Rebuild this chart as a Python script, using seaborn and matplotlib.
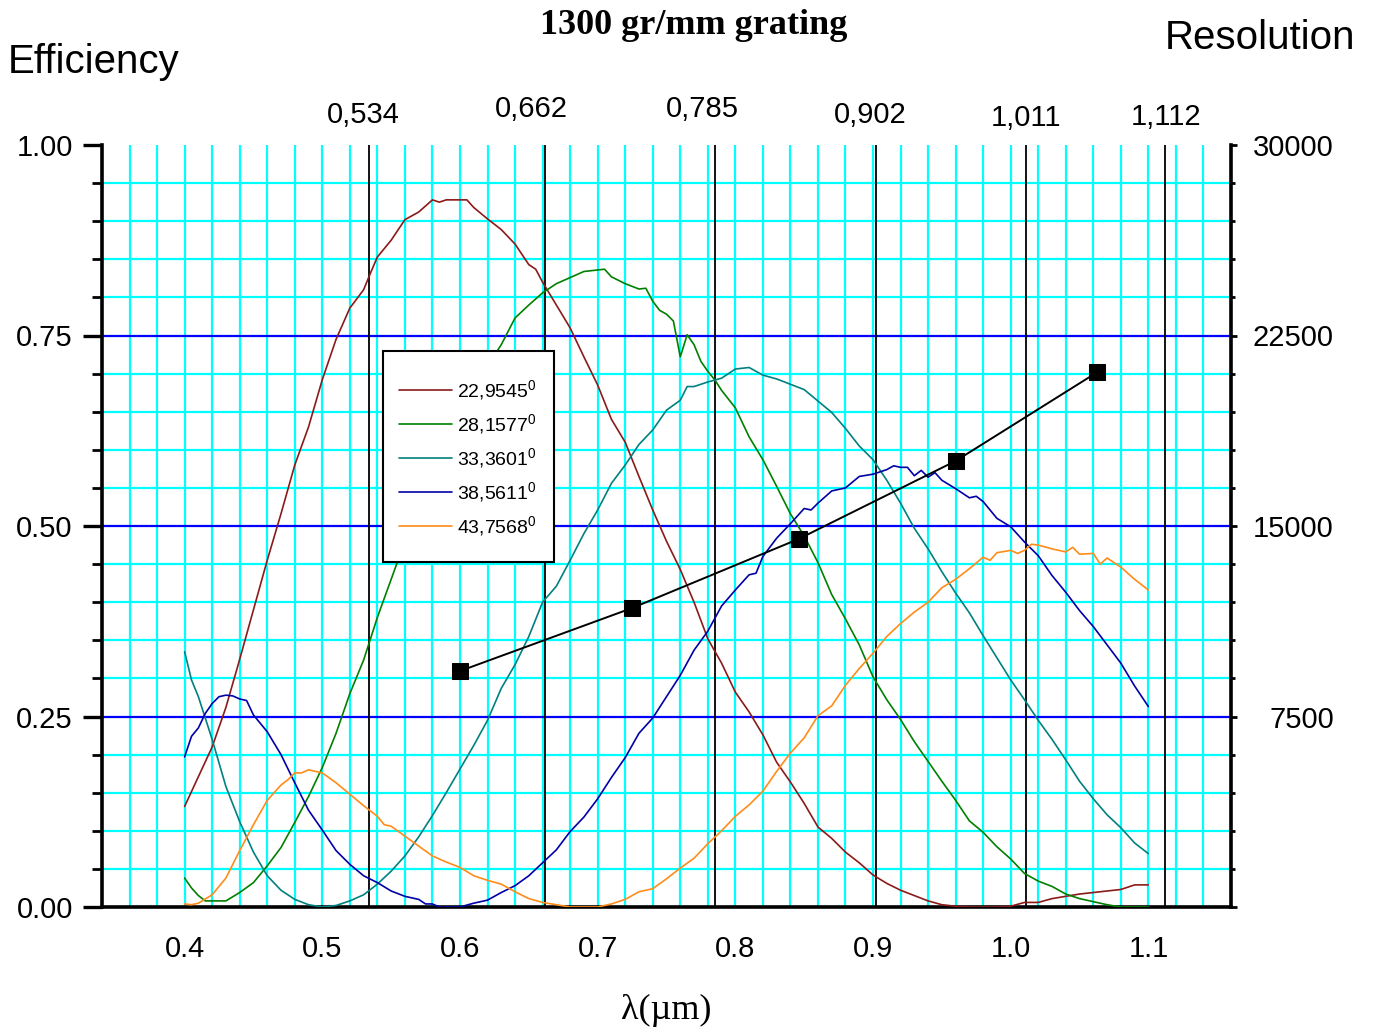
import numpy as np
import pandas as pd
import matplotlib
matplotlib.use("Agg")
import matplotlib.pyplot as plt
import matplotlib.transforms as mtransforms
from matplotlib.patches import Rectangle
from matplotlib.ticker import MultipleLocator, FormatStrFormatter, FixedLocator
import seaborn as sns

# ---------------- data ----------------
wl_red = [0.40, 0.41, 0.42, 0.43, 0.44, 0.45, 0.46, 0.47, 0.48, 0.49, 0.50, 0.51, 0.52, 0.53, 0.535,
          0.54, 0.55, 0.56, 0.57, 0.58, 0.585, 0.59, 0.60, 0.605, 0.61, 0.62, 0.63, 0.64, 0.65, 0.655,
          0.66, 0.67, 0.68, 0.69, 0.70, 0.71, 0.72, 0.73, 0.74, 0.75, 0.76, 0.77, 0.78, 0.79, 0.80,
          0.81, 0.82, 0.83, 0.84, 0.85, 0.86, 0.87, 0.88, 0.89, 0.90, 0.91, 0.92, 0.93, 0.94, 0.95,
          0.96, 0.97, 0.98, 0.99, 1.00, 1.01, 1.02, 1.03, 1.04, 1.05, 1.06, 1.07, 1.08, 1.09, 1.10]
eff_red = [0.132, 0.171, 0.210, 0.262, 0.325, 0.390, 0.455, 0.516, 0.580, 0.630, 0.692, 0.745, 0.786, 0.810, 0.832,
           0.853, 0.875, 0.902, 0.912, 0.928, 0.925, 0.928, 0.928, 0.928, 0.918, 0.903, 0.889, 0.870, 0.843, 0.837,
           0.820, 0.790, 0.760, 0.722, 0.685, 0.640, 0.610, 0.565, 0.521, 0.480, 0.443, 0.400, 0.352, 0.320, 0.282,
           0.256, 0.226, 0.190, 0.164, 0.136, 0.105, 0.090, 0.072, 0.058, 0.042, 0.031, 0.022, 0.015, 0.008, 0.003,
           0.001, 0.0, 0.0, 0.0, 0.001, 0.006, 0.006, 0.011, 0.014, 0.017, 0.019, 0.021, 0.023, 0.029, 0.029]

wl_green = [0.40, 0.405, 0.41, 0.415, 0.42, 0.43, 0.44, 0.45, 0.46, 0.47, 0.48, 0.49, 0.50, 0.51, 0.52,
            0.53, 0.54, 0.55, 0.56, 0.57, 0.58, 0.59, 0.60, 0.61, 0.62, 0.63, 0.64, 0.65, 0.66, 0.67,
            0.68, 0.69, 0.70, 0.705, 0.71, 0.72, 0.73, 0.735, 0.74, 0.745, 0.75, 0.755, 0.76, 0.765, 0.77,
            0.775, 0.78, 0.785, 0.79, 0.80, 0.81, 0.82, 0.83, 0.84, 0.85, 0.86, 0.87, 0.88, 0.89, 0.90,
            0.91, 0.92, 0.93, 0.94, 0.95, 0.96, 0.97, 0.98, 0.99, 1.00, 1.01, 1.02, 1.03, 1.04, 1.05,
            1.06, 1.07, 1.08, 1.09, 1.10]
eff_green = [0.038, 0.025, 0.015, 0.008, 0.008, 0.008, 0.019, 0.032, 0.054, 0.078, 0.111, 0.145, 0.183, 0.228, 0.280,
             0.324, 0.380, 0.430, 0.480, 0.530, 0.570, 0.610, 0.645, 0.680, 0.710, 0.738, 0.773, 0.790, 0.806, 0.818,
             0.826, 0.834, 0.836, 0.837, 0.827, 0.818, 0.811, 0.812, 0.795, 0.783, 0.778, 0.769, 0.722, 0.751, 0.738,
             0.716, 0.703, 0.692, 0.678, 0.655, 0.617, 0.587, 0.552, 0.516, 0.487, 0.452, 0.410, 0.378, 0.344, 0.302,
             0.272, 0.246, 0.217, 0.191, 0.165, 0.140, 0.113, 0.098, 0.079, 0.063, 0.044, 0.034, 0.027, 0.017, 0.011,
             0.007, 0.003, 0.0, 0.0, 0.0]

wl_teal = [0.40, 0.405, 0.41, 0.42, 0.43, 0.44, 0.45, 0.46, 0.47, 0.48, 0.49, 0.50, 0.51, 0.52, 0.53,
           0.54, 0.55, 0.56, 0.57, 0.58, 0.59, 0.60, 0.61, 0.62, 0.63, 0.64, 0.65, 0.66, 0.67, 0.68,
           0.69, 0.70, 0.71, 0.72, 0.73, 0.74, 0.75, 0.76, 0.765, 0.77, 0.78, 0.79, 0.80, 0.81, 0.82,
           0.83, 0.84, 0.85, 0.86, 0.87, 0.88, 0.89, 0.90, 0.91, 0.92, 0.93, 0.94, 0.95, 0.96, 0.97,
           0.98, 0.99, 1.00, 1.01, 1.02, 1.03, 1.04, 1.05, 1.06, 1.07, 1.08, 1.09, 1.10]
eff_teal = [0.335, 0.298, 0.276, 0.220, 0.158, 0.112, 0.072, 0.041, 0.022, 0.010, 0.003, 0.0, 0.002, 0.008, 0.016,
            0.030, 0.047, 0.067, 0.092, 0.120, 0.150, 0.181, 0.212, 0.245, 0.287, 0.318, 0.355, 0.400, 0.421, 0.455,
            0.490, 0.521, 0.556, 0.580, 0.607, 0.626, 0.652, 0.665, 0.683, 0.683, 0.689, 0.694, 0.706, 0.708, 0.698,
            0.693, 0.686, 0.679, 0.664, 0.649, 0.628, 0.605, 0.587, 0.560, 0.530, 0.497, 0.470, 0.440, 0.412, 0.386,
            0.356, 0.327, 0.298, 0.272, 0.245, 0.220, 0.193, 0.165, 0.142, 0.121, 0.104, 0.084, 0.070]

wl_blue = [0.40, 0.405, 0.41, 0.415, 0.42, 0.425, 0.43, 0.435, 0.44, 0.445, 0.45, 0.46, 0.47, 0.48, 0.49,
           0.50, 0.51, 0.52, 0.53, 0.54, 0.55, 0.56, 0.57, 0.575, 0.58, 0.585, 0.59, 0.60, 0.61, 0.62,
           0.63, 0.64, 0.65, 0.66, 0.67, 0.68, 0.69, 0.70, 0.71, 0.72, 0.73, 0.74, 0.75, 0.76, 0.77,
           0.78, 0.79, 0.80, 0.81, 0.815, 0.82, 0.83, 0.84, 0.85, 0.855, 0.86, 0.87, 0.88, 0.89, 0.90,
           0.91, 0.915, 0.92, 0.925, 0.93, 0.935, 0.94, 0.945, 0.95, 0.96, 0.97, 0.975, 0.98, 0.99, 1.00,
           1.01, 1.02, 1.03, 1.04, 1.05, 1.06, 1.07, 1.08, 1.09, 1.10]
eff_blue = [0.197, 0.224, 0.235, 0.254, 0.267, 0.276, 0.278, 0.277, 0.273, 0.271, 0.252, 0.230, 0.200, 0.163, 0.127,
            0.101, 0.074, 0.056, 0.041, 0.032, 0.021, 0.014, 0.010, 0.004, 0.004, 0.0, 0.0, 0.0, 0.005, 0.009,
            0.019, 0.028, 0.041, 0.058, 0.075, 0.099, 0.118, 0.142, 0.170, 0.196, 0.228, 0.248, 0.276, 0.304, 0.337,
            0.362, 0.395, 0.416, 0.436, 0.438, 0.460, 0.484, 0.503, 0.523, 0.521, 0.530, 0.546, 0.550, 0.565, 0.568,
            0.574, 0.579, 0.577, 0.577, 0.566, 0.573, 0.564, 0.570, 0.560, 0.549, 0.537, 0.539, 0.532, 0.510, 0.499,
            0.479, 0.461, 0.435, 0.413, 0.389, 0.368, 0.344, 0.320, 0.290, 0.263]

wl_orange = [0.40, 0.405, 0.41, 0.42, 0.43, 0.44, 0.45, 0.46, 0.47, 0.475, 0.48, 0.485, 0.49, 0.50, 0.51,
             0.52, 0.53, 0.54, 0.545, 0.55, 0.56, 0.57, 0.58, 0.59, 0.60, 0.61, 0.62, 0.63, 0.64, 0.65,
             0.66, 0.67, 0.68, 0.69, 0.70, 0.71, 0.72, 0.73, 0.74, 0.75, 0.76, 0.77, 0.78, 0.79, 0.80,
             0.81, 0.82, 0.83, 0.84, 0.85, 0.86, 0.87, 0.88, 0.89, 0.90, 0.91, 0.92, 0.93, 0.94, 0.95,
             0.96, 0.97, 0.98, 0.985, 0.99, 1.00, 1.005, 1.01, 1.015, 1.02, 1.03, 1.04, 1.045, 1.05, 1.06,
             1.065, 1.07, 1.08, 1.09, 1.10]
eff_orange = [0.004, 0.003, 0.005, 0.016, 0.038, 0.074, 0.108, 0.140, 0.160, 0.167, 0.176, 0.176, 0.180, 0.176, 0.163,
              0.148, 0.133, 0.119, 0.108, 0.106, 0.093, 0.080, 0.067, 0.059, 0.052, 0.041, 0.035, 0.030, 0.020, 0.011,
              0.006, 0.003, 0.0, 0.0, 0.0, 0.004, 0.010, 0.020, 0.024, 0.037, 0.051, 0.064, 0.083, 0.100, 0.119,
              0.134, 0.152, 0.178, 0.202, 0.222, 0.251, 0.264, 0.291, 0.313, 0.333, 0.355, 0.372, 0.387, 0.400, 0.419,
              0.430, 0.444, 0.459, 0.455, 0.465, 0.468, 0.464, 0.468, 0.476, 0.475, 0.470, 0.466, 0.472, 0.463, 0.464,
              0.450, 0.458, 0.446, 0.430, 0.416]

angles = ["22,9545", "28,1577", "33,3601", "38,5611", "43,7568"]
series_colors = ["#8B1A1A", "#008000", "#008080", "#0000A8", "#FF8C1A"]

res_wl = [0.600, 0.725, 0.846, 0.960, 1.063]
res_val = [9290, 11770, 14490, 17560, 21060]

cut_wl = [0.534, 0.662, 0.785, 0.902, 1.011, 1.112]
cut_labels = ["0,534", "0,662", "0,785", "0,902", "1,011", "1,112"]
cut_label_x = [0.5296, 0.6518, 0.7763, 0.8978, 1.0114, 1.1125]
cut_label_y = [1.040, 1.0466, 1.0466, 1.040, 1.036, 1.0374]

res_ticks = [0, 7500, 15000, 22500, 30000]
res_ticklabels = ["", "7500", "15000", "22500", "30000"]

# ---------------- build long table ----------------
frames = []
for wl, eff, ang in zip([wl_red, wl_green, wl_teal, wl_blue, wl_orange],
                        [eff_red, eff_green, eff_teal, eff_blue, eff_orange], angles):
    frames.append(pd.DataFrame({"wl": wl, "eff": eff, "angle": r"%s$^{0}$" % ang}))
df = pd.concat(frames, ignore_index=True)
hue_order = [r"%s$^{0}$" % a for a in angles]

# ---------------- style ----------------
sns.set_style("white")
plt.rcParams["font.family"] = ["Liberation Sans", "DejaVu Sans"]
plt.rcParams["text.color"] = "black"
plt.rcParams["mathtext.fontset"] = "custom"
plt.rcParams["mathtext.rm"] = "Liberation Sans"
plt.rcParams["mathtext.it"] = "Liberation Sans"
plt.rcParams["mathtext.bf"] = "Liberation Sans:bold"

W, H = 1377, 1033
fig = plt.figure(figsize=(W / 100, H / 100), dpi=100)
ax = fig.add_axes([102 / W, 1 - 907 / H, (1231 - 102) / W, (907 - 145) / H])

sns.lineplot(data=df, x="wl", y="eff", hue="angle", hue_order=hue_order,
             palette=series_colors, estimator=None, linewidth=1.2, ax=ax, zorder=3)

ax.set_xlim(0.34, 1.16)
ax.set_ylim(0, 1.0)
ax.xaxis.set_major_locator(MultipleLocator(0.1))
ax.xaxis.set_minor_locator(MultipleLocator(0.02))
ax.yaxis.set_major_locator(MultipleLocator(0.25))
ax.yaxis.set_minor_locator(MultipleLocator(0.05))
ax.xaxis.set_major_formatter(FormatStrFormatter("%.1f"))
ax.yaxis.set_major_formatter(FormatStrFormatter("%.2f"))
ax.set_axisbelow(True)
ax.grid(which="both", axis="x", color="#00FFFF", linewidth=1.6)
ax.grid(which="minor", axis="y", color="#00FFFF", linewidth=1.6)
ax.grid(which="major", axis="y", visible=False)
for v in [0.25, 0.5, 0.75]:
    ax.axhline(v, color="#0000FF", linewidth=1.6, zorder=1)
for v in cut_wl:
    ax.axvline(v, color="black", linewidth=1.3, zorder=2)

ax.set_xlabel("")
ax.set_ylabel("")
ax.tick_params(axis="both", which="major", direction="out", length=14, width=2.4,
               labelsize=21, color="black", labelcolor="black")
ax.tick_params(axis="x", which="major", pad=6)
ax.tick_params(axis="y", which="major", pad=7)
ax.tick_params(axis="both", which="minor", direction="out", length=7, width=2, color="black")
for s in ["top", "right"]:
    ax.spines[s].set_visible(False)
for s in ["left", "bottom"]:
    ax.spines[s].set_linewidth(2.6)
    ax.spines[s].set_color("black")

# legend: explicit frame box + frameless legend inside
ax.add_patch(Rectangle(((383 - 102) / 1129, (907 - 562) / 762), 171 / 1129, 211 / 762,
                       transform=ax.transAxes, facecolor="white", edgecolor="black",
                       linewidth=1.5, zorder=9))
handles, labels = ax.get_legend_handles_labels()
leg = ax.legend(handles, labels, loc="upper left", bbox_to_anchor=((399 - 102) / 1129, (907 - 378) / 762),
                bbox_transform=ax.transAxes, borderaxespad=0, borderpad=0, frameon=False,
                fontsize=14, handlelength=2.75, labelspacing=0.52, handletextpad=0.22)
leg.set_zorder(10)
for t in leg.get_texts():
    t.set_color("black")

# top labels for the cut lines
trans = mtransforms.blended_transform_factory(ax.transData, ax.transAxes)
for txt, xx, yy in zip(cut_labels, cut_label_x, cut_label_y):
    ax.text(xx, yy, txt, transform=trans, ha="center", va="center", fontsize=21)

# resolution axis
ax2 = ax.twinx()
sns.lineplot(x=res_wl, y=res_val, color="black", marker="s", markersize=12,
             markeredgecolor="black", linewidth=1.4, estimator=None, ax=ax2)
ax2.set_ylim(0, 30000)
ax2.yaxis.set_major_locator(FixedLocator(res_ticks))
ax2.set_yticklabels(res_ticklabels)
ax2.yaxis.set_minor_locator(MultipleLocator(1500))
ax2.tick_params(axis="y", which="major", direction="out", length=4, width=2,
                labelsize=21, pad=70, color="black", labelcolor="black")
ax2.tick_params(axis="y", which="minor", direction="out", length=3, width=2, color="black")
for lbl in ax2.get_yticklabels():
    lbl.set_horizontalalignment("right")
for s in ["top", "left", "bottom"]:
    ax2.spines[s].set_visible(False)
ax2.spines["right"].set_linewidth(2.6)
ax2.spines["right"].set_color("black")
ax2.set_ylabel("")
ax2.set_xlim(0.34, 1.16)

# figure texts
fig.text(693.5 / W, 1 - 25 / H, "1300 gr/mm grating", ha="center", va="center",
         fontsize=26, fontweight="bold", family="Liberation Serif", color="black")
fig.text(8 / W, 1 - 62 / H, "Efficiency", ha="left", va="center", fontsize=29, color="black")
fig.text(1355 / W, 1 - 38 / H, "Resolution", ha="right", va="center", fontsize=29, color="black")
fig.text(666 / W, 1 - 1010 / H, "λ(µm)", ha="center", va="center", fontsize=26,
         family="Liberation Serif", color="black")

fig.savefig("out.png", dpi=100)
